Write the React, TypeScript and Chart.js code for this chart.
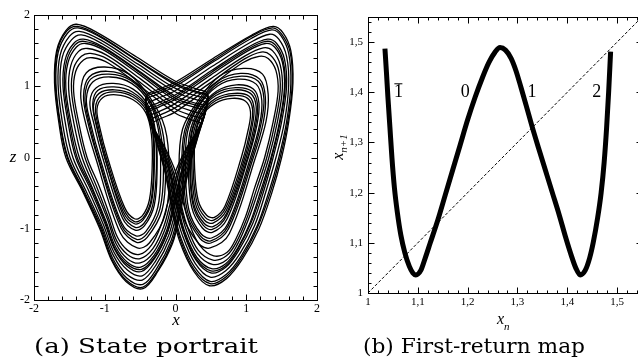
import { useEffect, useRef } from "react";
import { Chart, registerables } from "chart.js";

Chart.register(...registerables);

type Pt = [number, number];

// ---------- (a) State portrait: orbit loops (x, z) ----------
const leftInnerLoops: Pt[][] = [
  [[-0.96,0.0],[-1.07,0.42],[-1.11,0.68],[-1.03,0.84],[-0.84,0.88],[-0.6,0.81],[-0.42,0.63],[-0.34,0.32],[-0.33,-0.15],[-0.37,-0.6],[-0.47,-0.82],[-0.58,-0.86],[-0.72,-0.7],[-0.96,0.0]],
  [[-0.98,0.0],[-1.09,0.43],[-1.13,0.7],[-1.05,0.87],[-0.85,0.92],[-0.6,0.85],[-0.41,0.66],[-0.32,0.33],[-0.31,-0.15],[-0.35,-0.62],[-0.46,-0.85],[-0.58,-0.9],[-0.73,-0.73],[-0.98,0.0]],
  [[-1.0,0.0],[-1.11,0.44],[-1.16,0.72],[-1.08,0.9],[-0.86,0.95],[-0.6,0.88],[-0.4,0.68],[-0.31,0.33],[-0.3,-0.15],[-0.34,-0.63],[-0.46,-0.88],[-0.58,-0.93],[-0.74,-0.76],[-1.0,0.0]],
  [[-1.0,0.0],[-1.12,0.45],[-1.17,0.75],[-1.1,0.94],[-0.87,0.99],[-0.61,0.92],[-0.39,0.7],[-0.29,0.34],[-0.27,-0.15],[-0.32,-0.66],[-0.45,-0.93],[-0.57,-0.98],[-0.74,-0.81],[-1.0,0.0]],
  [[-1.03,0.0],[-1.15,0.46],[-1.21,0.78],[-1.12,0.98],[-0.88,1.04],[-0.6,0.96],[-0.38,0.72],[-0.28,0.35],[-0.26,-0.15],[-0.3,-0.67],[-0.44,-0.96],[-0.57,-1.02],[-0.75,-0.85],[-1.03,0.0]],
  [[-1.07,0.0],[-1.2,0.48],[-1.26,0.82],[-1.17,1.06],[-0.92,1.13],[-0.62,1.04],[-0.37,0.77],[-0.24,0.38],[-0.21,-0.15],[-0.25,-0.7],[-0.42,-1.04],[-0.56,-1.1],[-0.76,-0.92],[-1.07,0.0]],
  [[-1.09,0.0],[-1.22,0.49],[-1.28,0.84],[-1.2,1.1],[-0.94,1.17],[-0.63,1.08],[-0.36,0.79],[-0.22,0.39],[-0.17,-0.15],[-0.22,-0.72],[-0.41,-1.08],[-0.55,-1.15],[-0.76,-0.96],[-1.09,0.0]],
  [[-1.1,0.0],[-1.24,0.5],[-1.3,0.86],[-1.22,1.13],[-0.96,1.21],[-0.64,1.11],[-0.36,0.8],[-0.19,0.4],[-0.14,-0.15],[-0.19,-0.74],[-0.4,-1.12],[-0.55,-1.19],[-0.77,-0.99],[-1.1,0.0]],
  [[-1.13,0.0],[-1.28,0.52],[-1.34,0.9],[-1.26,1.19],[-1.0,1.27],[-0.66,1.17],[-0.36,0.84],[-0.15,0.42],[-0.09,-0.15],[-0.14,-0.78],[-0.37,-1.2],[-0.54,-1.27],[-0.78,-1.06],[-1.13,0.0]],
];

const leftOuterLoops: Pt[][] = [
  [[-1.25,0],[-1.37,0.5],[-1.44,0.93],[-1.41,1.21],[-1.3,1.37],[-1.17,1.4],[-0.94,1.32],[-0.47,0.98],[0,0.62],[0.25,0.52],[0.35,0.48],[0.3,0.36],[0.16,0.14],[0.0,-0.2],[-0.1,-0.6],[-0.2,-0.94],[-0.34,-1.23],[-0.51,-1.36],[-0.68,-1.3],[-0.82,-1.12],[-0.93,-0.81],[-1.08,-0.4],[-1.25,0]],
  [[-1.28,0],[-1.4,0.5],[-1.47,0.94],[-1.44,1.25],[-1.33,1.42],[-1.2,1.46],[-0.96,1.38],[-0.48,1.04],[0,0.68],[0.26,0.58],[0.37,0.54],[0.32,0.4],[0.18,0.16],[0.03,-0.2],[-0.07,-0.62],[-0.17,-0.98],[-0.32,-1.28],[-0.5,-1.42],[-0.68,-1.36],[-0.83,-1.17],[-0.95,-0.84],[-1.11,-0.42],[-1.28,0]],
  [[-1.32,0],[-1.44,0.5],[-1.51,0.96],[-1.48,1.29],[-1.37,1.49],[-1.24,1.53],[-0.98,1.44],[-0.49,1.1],[0,0.74],[0.27,0.64],[0.39,0.6],[0.34,0.44],[0.2,0.17],[0.05,-0.2],[-0.05,-0.64],[-0.15,-1.01],[-0.31,-1.33],[-0.5,-1.48],[-0.68,-1.42],[-0.84,-1.21],[-0.96,-0.87],[-1.14,-0.43],[-1.32,0]],
  [[-1.36,0],[-1.48,0.5],[-1.55,0.98],[-1.52,1.33],[-1.4,1.55],[-1.27,1.6],[-1.0,1.5],[-0.5,1.16],[0,0.8],[0.28,0.7],[0.41,0.66],[0.36,0.48],[0.22,0.19],[0.08,-0.2],[-0.03,-0.66],[-0.13,-1.04],[-0.3,-1.37],[-0.49,-1.54],[-0.68,-1.47],[-0.85,-1.25],[-0.98,-0.9],[-1.17,-0.44],[-1.36,0]],
  [[-1.39,0],[-1.5,0.5],[-1.57,0.99],[-1.54,1.35],[-1.42,1.58],[-1.29,1.63],[-1.01,1.53],[-0.5,1.19],[0,0.83],[0.29,0.73],[0.42,0.69],[0.37,0.5],[0.23,0.2],[0.09,-0.2],[-0.02,-0.67],[-0.12,-1.06],[-0.29,-1.39],[-0.48,-1.57],[-0.68,-1.5],[-0.86,-1.27],[-0.99,-0.91],[-1.18,-0.45],[-1.39,0]],
  [[-1.41,0],[-1.52,0.5],[-1.59,1.0],[-1.56,1.37],[-1.44,1.6],[-1.3,1.66],[-1.02,1.55],[-0.51,1.21],[0,0.86],[0.29,0.76],[0.42,0.72],[0.38,0.52],[0.24,0.21],[0.1,-0.2],[-0.01,-0.68],[-0.12,-1.07],[-0.29,-1.41],[-0.48,-1.6],[-0.68,-1.53],[-0.86,-1.29],[-1.0,-0.92],[-1.2,-0.45],[-1.41,0]],
  [[-1.45,0],[-1.56,0.5],[-1.63,1.02],[-1.6,1.41],[-1.47,1.65],[-1.33,1.72],[-1.04,1.6],[-0.52,1.26],[0,0.92],[0.3,0.81],[0.43,0.77],[0.4,0.56],[0.26,0.23],[0.12,-0.2],[0.01,-0.7],[-0.1,-1.1],[-0.28,-1.45],[-0.47,-1.66],[-0.68,-1.58],[-0.87,-1.33],[-1.02,-0.94],[-1.23,-0.46],[-1.45,0]],
  [[-1.49,0],[-1.6,0.5],[-1.66,1.03],[-1.63,1.44],[-1.5,1.7],[-1.36,1.77],[-1.06,1.65],[-0.53,1.31],[0,0.97],[0.3,0.86],[0.44,0.82],[0.41,0.6],[0.28,0.25],[0.14,-0.2],[0.03,-0.72],[-0.08,-1.13],[-0.27,-1.5],[-0.47,-1.72],[-0.69,-1.64],[-0.88,-1.37],[-1.04,-0.96],[-1.26,-0.48],[-1.49,0]],
  [[-1.52,0],[-1.63,0.5],[-1.69,1.04],[-1.66,1.47],[-1.53,1.74],[-1.38,1.82],[-1.08,1.7],[-0.54,1.36],[0,1.02],[0.3,0.91],[0.45,0.86],[0.42,0.64],[0.3,0.27],[0.16,-0.2],[0.05,-0.74],[-0.06,-1.16],[-0.26,-1.55],[-0.46,-1.78],[-0.69,-1.69],[-0.89,-1.41],[-1.05,-0.98],[-1.28,-0.49],[-1.52,0]],
  [[-1.53,0],[-1.64,0.52],[-1.7,1.06],[-1.67,1.5],[-1.54,1.77],[-1.39,1.84],[-1.09,1.72],[-0.56,1.38],[0,1.04],[0.31,0.92],[0.46,0.87],[0.43,0.66],[0.31,0.28],[0.17,-0.22],[0.06,-0.76],[-0.05,-1.19],[-0.25,-1.58],[-0.46,-1.82],[-0.7,-1.72],[-0.9,-1.43],[-1.06,-0.99],[-1.29,-0.5],[-1.53,0]],
  [[-1.55,0],[-1.65,0.5],[-1.71,1.05],[-1.68,1.5],[-1.55,1.78],[-1.4,1.87],[-1.1,1.75],[-0.55,1.41],[0,1.07],[0.3,0.96],[0.45,0.9],[0.43,0.68],[0.32,0.3],[0.18,-0.2],[0.07,-0.76],[-0.04,-1.2],[-0.25,-1.6],[-0.46,-1.84],[-0.7,-1.74],[-0.9,-1.45],[-1.07,-1.0],[-1.3,-0.5],[-1.55,0]],
];

const rightInnerLoops: Pt[][] = [
  [[0.93,0.0],[1.03,0.4],[1.06,0.64],[0.99,0.79],[0.8,0.83],[0.56,0.76],[0.37,0.58],[0.28,0.3],[0.27,-0.15],[0.32,-0.6],[0.44,-0.81],[0.55,-0.84],[0.7,-0.68],[0.93,0.0]],
  [[0.96,0.0],[1.06,0.41],[1.09,0.67],[1.02,0.83],[0.82,0.87],[0.57,0.8],[0.37,0.6],[0.27,0.31],[0.25,-0.15],[0.3,-0.62],[0.42,-0.84],[0.54,-0.88],[0.71,-0.71],[0.96,0.0]],
  [[0.98,0.0],[1.08,0.42],[1.11,0.69],[1.04,0.86],[0.83,0.9],[0.57,0.83],[0.36,0.62],[0.25,0.32],[0.23,-0.15],[0.28,-0.64],[0.41,-0.88],[0.53,-0.92],[0.72,-0.74],[0.98,0.0]],
  [[1.0,0.0],[1.11,0.43],[1.14,0.72],[1.06,0.9],[0.84,0.95],[0.57,0.87],[0.35,0.65],[0.23,0.33],[0.21,-0.15],[0.26,-0.66],[0.4,-0.92],[0.53,-0.97],[0.72,-0.79],[1.0,0.0]],
  [[1.02,0.0],[1.13,0.44],[1.16,0.74],[1.08,0.93],[0.85,0.98],[0.57,0.9],[0.35,0.66],[0.22,0.33],[0.2,-0.15],[0.25,-0.68],[0.39,-0.95],[0.52,-1.01],[0.72,-0.82],[1.02,0.0]],
  [[1.03,0.0],[1.15,0.45],[1.18,0.76],[1.1,0.96],[0.86,1.02],[0.58,0.93],[0.34,0.68],[0.2,0.34],[0.18,-0.15],[0.23,-0.7],[0.38,-0.99],[0.52,-1.05],[0.73,-0.86],[1.03,0.0]],
  [[1.06,0.0],[1.19,0.47],[1.22,0.8],[1.14,1.03],[0.88,1.1],[0.59,1.0],[0.33,0.72],[0.17,0.36],[0.14,-0.15],[0.19,-0.74],[0.36,-1.07],[0.51,-1.13],[0.74,-0.93],[1.06,0.0]],
  [[1.08,0.0],[1.21,0.48],[1.25,0.82],[1.17,1.07],[0.9,1.14],[0.6,1.04],[0.33,0.74],[0.15,0.37],[0.11,-0.15],[0.17,-0.76],[0.35,-1.1],[0.5,-1.17],[0.74,-0.97],[1.08,0.0]],
  [[1.1,0.0],[1.24,0.49],[1.27,0.85],[1.19,1.1],[0.92,1.18],[0.6,1.07],[0.32,0.76],[0.13,0.38],[0.09,-0.15],[0.15,-0.77],[0.35,-1.14],[0.5,-1.2],[0.75,-1.0],[1.1,0.0]],
  [[1.13,0.0],[1.28,0.51],[1.31,0.89],[1.23,1.17],[0.96,1.25],[0.62,1.14],[0.32,0.8],[0.1,0.4],[0.05,-0.15],[0.1,-0.8],[0.33,-1.21],[0.49,-1.27],[0.76,-1.07],[1.13,0.0]],
];

const rightOuterLoops: Pt[][] = [
  [[1.26,0],[1.38,0.5],[1.45,0.93],[1.42,1.22],[1.31,1.39],[1.18,1.42],[0.95,1.33],[0.47,0.98],[0,0.64],[-0.22,0.54],[-0.32,0.48],[-0.28,0.36],[-0.15,0.14],[0.0,-0.2],[0.1,-0.6],[0.2,-0.94],[0.34,-1.23],[0.54,-1.38],[0.73,-1.33],[0.85,-1.15],[0.99,-0.83],[1.12,-0.42],[1.26,0]],
  [[1.29,0],[1.41,0.5],[1.48,0.94],[1.45,1.26],[1.34,1.44],[1.21,1.48],[0.97,1.38],[0.48,1.04],[0,0.7],[-0.23,0.59],[-0.34,0.53],[-0.3,0.4],[-0.17,0.16],[-0.03,-0.2],[0.07,-0.62],[0.17,-0.98],[0.32,-1.3],[0.53,-1.44],[0.72,-1.38],[0.86,-1.19],[1.01,-0.85],[1.15,-0.43],[1.29,0]],
  [[1.32,0],[1.44,0.5],[1.51,0.96],[1.48,1.3],[1.37,1.5],[1.24,1.54],[0.99,1.43],[0.49,1.1],[0,0.76],[-0.24,0.64],[-0.36,0.58],[-0.32,0.44],[-0.19,0.17],[-0.05,-0.2],[0.05,-0.64],[0.15,-1.01],[0.31,-1.35],[0.52,-1.5],[0.72,-1.44],[0.87,-1.23],[1.03,-0.87],[1.18,-0.44],[1.32,0]],
  [[1.35,0],[1.47,0.5],[1.54,0.98],[1.51,1.34],[1.4,1.55],[1.27,1.6],[1.01,1.49],[0.5,1.16],[0,0.82],[-0.25,0.7],[-0.38,0.63],[-0.34,0.48],[-0.21,0.19],[-0.07,-0.2],[0.03,-0.66],[0.13,-1.04],[0.3,-1.4],[0.51,-1.56],[0.71,-1.49],[0.88,-1.27],[1.06,-0.9],[1.21,-0.45],[1.35,0]],
  [[1.36,0],[1.48,0.5],[1.55,0.99],[1.52,1.36],[1.41,1.58],[1.28,1.63],[1.02,1.52],[0.5,1.19],[0,0.85],[-0.25,0.73],[-0.38,0.66],[-0.35,0.5],[-0.22,0.2],[-0.08,-0.2],[0.02,-0.67],[0.12,-1.05],[0.29,-1.42],[0.5,-1.59],[0.71,-1.52],[0.88,-1.29],[1.07,-0.91],[1.23,-0.45],[1.36,0]],
  [[1.38,0],[1.5,0.5],[1.57,1.0],[1.54,1.38],[1.43,1.6],[1.3,1.66],[1.03,1.55],[0.51,1.22],[0,0.88],[-0.26,0.76],[-0.39,0.69],[-0.36,0.52],[-0.23,0.21],[-0.09,-0.2],[0.01,-0.68],[0.12,-1.07],[0.29,-1.44],[0.5,-1.62],[0.71,-1.54],[0.89,-1.31],[1.09,-0.93],[1.25,-0.46],[1.38,0]],
  [[1.42,0],[1.54,0.5],[1.6,1.02],[1.57,1.42],[1.46,1.66],[1.33,1.73],[1.05,1.61],[0.52,1.28],[0,0.94],[-0.27,0.82],[-0.4,0.75],[-0.38,0.56],[-0.25,0.23],[-0.11,-0.2],[-0.01,-0.7],[0.1,-1.1],[0.28,-1.49],[0.49,-1.68],[0.71,-1.59],[0.91,-1.35],[1.12,-0.95],[1.28,-0.47],[1.42,0]],
  [[1.46,0],[1.57,0.5],[1.63,1.03],[1.6,1.46],[1.49,1.71],[1.36,1.79],[1.07,1.67],[0.53,1.34],[0,1.0],[-0.28,0.88],[-0.41,0.81],[-0.39,0.6],[-0.27,0.25],[-0.13,-0.2],[-0.03,-0.72],[0.08,-1.14],[0.27,-1.54],[0.49,-1.74],[0.72,-1.64],[0.93,-1.38],[1.15,-0.97],[1.32,-0.48],[1.46,0]],
  [[1.48,0],[1.59,0.52],[1.65,1.04],[1.62,1.48],[1.5,1.73],[1.37,1.82],[1.07,1.7],[0.54,1.37],[0,1.03],[-0.29,0.91],[-0.42,0.84],[-0.4,0.63],[-0.28,0.27],[-0.14,-0.22],[-0.04,-0.73],[0.07,-1.16],[0.26,-1.57],[0.49,-1.77],[0.72,-1.67],[0.94,-1.4],[1.16,-0.98],[1.34,-0.49],[1.48,0]],
  [[1.5,0],[1.6,0.5],[1.66,1.05],[1.63,1.5],[1.52,1.75],[1.38,1.84],[1.08,1.72],[0.53,1.39],[0,1.06],[-0.28,0.94],[-0.41,0.87],[-0.4,0.65],[-0.29,0.28],[-0.15,-0.2],[-0.05,-0.74],[0.06,-1.18],[0.26,-1.6],[0.48,-1.8],[0.72,-1.7],[0.95,-1.42],[1.18,-1.0],[1.36,-0.5],[1.5,0]],
];

const portraitTicks = [-2, -1, 0, 1, 2];
const portraitTickLabels = ["-2", "-1", "0", "1", "2"];

// ---------- (b) First-return map ----------
const mapXn = [1.034,1.037,1.040,1.044,1.048,1.053,1.059,1.066,1.074,1.083,1.090,1.096,1.106,1.115,1.125,1.140,1.155,1.170,1.185,1.200,1.215,1.230,1.243,1.255,1.265,1.276,1.287,1.297,1.307,1.318,1.329,1.342,1.356,1.370,1.384,1.397,1.408,1.417,1.426,1.436,1.445,1.452,1.461,1.468,1.474,1.479,1.483,1.487];
const mapXn1 = [1.487,1.44,1.39,1.33,1.27,1.21,1.16,1.115,1.08,1.053,1.04,1.036,1.045,1.07,1.10,1.145,1.195,1.245,1.295,1.345,1.39,1.43,1.46,1.48,1.489,1.484,1.468,1.443,1.41,1.372,1.333,1.29,1.245,1.20,1.155,1.11,1.075,1.05,1.036,1.045,1.07,1.10,1.15,1.20,1.26,1.33,1.40,1.481];
const diagonalXn = [1, 1.55];
const diagonalXn1 = [1, 1.55];
const branchNames = ["1", "0", "1", "2"];
const branchBarred = [true, false, false, false];
const branchXn = [1.061, 1.195, 1.329, 1.459];
const branchXn1 = [1.39, 1.39, 1.39, 1.39];
const mapTicks = [1, 1.1, 1.2, 1.3, 1.4, 1.5];
const mapTickLabels = ["1", "1,1", "1,2", "1,3", "1,4", "1,5"];

const SERIF = '"Liberation Serif", "Times New Roman", serif';

function minorValues(min: number, max: number, step: number, majors: number[]) {
  const out: number[] = [];
  const n = Math.round((max - min) / step);
  for (let i = 0; i <= n; i++) {
    const v = min + i * step;
    if (!majors.some((m) => Math.abs(m - v) < 1e-6)) out.push(v);
  }
  return out;
}

type TickSpec = { majors: number[]; minors: number[]; majorLen: number; minorLen: number; oppositeMinor: boolean };

function framePlugin(spec: { x: TickSpec; y: TickSpec }) {
  return {
    id: "frameTicks",
    afterDraw(chart: any) {
      const { ctx, chartArea: a, scales } = chart;
      const xs = scales.x, ys = scales.y;
      ctx.save();
      ctx.strokeStyle = "#000";
      ctx.lineWidth = 1;
      const L = Math.round(a.left) + 0.5, R = Math.round(a.right) + 0.5;
      const T = Math.round(a.top) + 0.5, B = Math.round(a.bottom) + 0.5;
      ctx.strokeRect(L, T, R - L, B - T);
      ctx.beginPath();
      const xt = spec.x;
      const drawX = (v: number, len: number, top: boolean) => {
        const p = Math.round(xs.getPixelForValue(v)) + 0.5;
        if (top) { ctx.moveTo(p, T); ctx.lineTo(p, T + len); }
        else { ctx.moveTo(p, B); ctx.lineTo(p, B - len); }
      };
      xt.majors.forEach((v) => { drawX(v, xt.majorLen, false); drawX(v, xt.majorLen, true); });
      xt.minors.forEach((v) => { drawX(v, xt.minorLen, false); if (xt.oppositeMinor) drawX(v, xt.minorLen, true); });
      const yt = spec.y;
      const drawY = (v: number, len: number, right: boolean) => {
        const p = Math.round(ys.getPixelForValue(v)) + 0.5;
        if (right) { ctx.moveTo(R, p); ctx.lineTo(R - len, p); }
        else { ctx.moveTo(L, p); ctx.lineTo(L + len, p); }
      };
      yt.majors.forEach((v) => { drawY(v, yt.majorLen, false); drawY(v, yt.majorLen, true); });
      yt.minors.forEach((v) => { drawY(v, yt.minorLen, false); if (yt.oppositeMinor) drawY(v, yt.minorLen, true); });
      ctx.stroke();
      ctx.restore();
    },
  };
}

function drawScaledText(ctx: CanvasRenderingContext2D, text: string, cx: number, baseline: number, font: string, width: number) {
  ctx.save();
  ctx.font = font;
  ctx.fillStyle = "#000";
  ctx.textBaseline = "alphabetic";
  ctx.textAlign = "left";
  const w = ctx.measureText(text).width;
  const s = width / w;
  ctx.translate(cx - width / 2, baseline);
  ctx.scale(s, 1);
  ctx.fillText(text, 0, 0);
  ctx.restore();
}

// closed orbit loop: wrap one point on each side so the spline is smooth at the seam,
// and hide the two wrap segments
function loopDataset(loop: Pt[]) {
  const n = loop.length;
  const wrapped = [loop[n - 2], ...loop, loop[1]];
  const last = wrapped.length - 1;
  return {
    data: wrapped.map(([x, y]) => ({ x, y })),
    showLine: true,
    borderColor: "#000",
    borderWidth: 1.3,
    pointRadius: 0,
    tension: 0.35,
    fill: false,
    segment: {
      borderColor: (c: any) => (c.p0DataIndex === 0 || c.p1DataIndex === last ? "rgba(0,0,0,0)" : undefined),
    },
  };
}

function axisCfg(min: number, max: number, ticks: number[], labels: string[], size: number, fontSize: number, isX: boolean, pad: number) {
  return {
    type: "linear",
    min, max,
    afterBuildTicks: (s: any) => { s.ticks = ticks.map((v) => ({ value: v })); },
    afterFit: (s: any) => { if (isX) s.height = size; else s.width = size; },
    ticks: {
      callback: (_v: any, i: number) => labels[i],
      font: { family: SERIF, size: fontSize },
      color: "#000",
      padding: pad,
      autoSkip: false,
      maxRotation: 0,
      minRotation: 0,
    },
    grid: { display: false, drawTicks: false },
    border: { display: false },
  };
}

export default function App() {
  const leftRef = useRef<HTMLCanvasElement>(null);
  const rightRef = useRef<HTMLCanvasElement>(null);

  useEffect(() => {
    const portraitMinors = minorValues(-2, 2, 0.2, portraitTicks);
    const mapMinors = minorValues(1, 1.54, 0.02, mapTicks);

    const leftTexts = {
      id: "leftTexts",
      afterDraw(chart: any) {
        const ctx = chart.ctx as CanvasRenderingContext2D;
        ctx.save();
        ctx.fillStyle = "#000";
        ctx.font = `italic 17px ${SERIF}`;
        ctx.textAlign = "center";
        ctx.textBaseline = "alphabetic";
        ctx.fillText("z", 13, 162);
        ctx.fillText("x", 176, 325);
        ctx.restore();
        drawScaledText(ctx, "(a) State portrait", 146, 353, '21px "DejaVu Serif", serif', 224);
      },
    };

    const left = new Chart(leftRef.current as HTMLCanvasElement, {
      type: "scatter",
      data: {
        datasets: [...leftInnerLoops, ...leftOuterLoops, ...rightInnerLoops, ...rightOuterLoops].map(loopDataset) as any,
      },
      options: {
        responsive: false,
        animation: false,
        devicePixelRatio: 1,
        layout: { padding: { top: 15, right: 13, left: 0, bottom: 0 } },
        plugins: { legend: { display: false }, tooltip: { enabled: false }, title: { display: false } },
        scales: {
          x: axisCfg(-2, 2, portraitTicks, portraitTickLabels, 60, 12, true, 2) as any,
          y: axisCfg(-2, 2, portraitTicks, portraitTickLabels, 34, 12, false, 4) as any,
        },
      },
      plugins: [
        framePlugin({
          x: { majors: portraitTicks, minors: portraitMinors, majorLen: 6, minorLen: 4, oppositeMinor: true },
          y: { majors: portraitTicks, minors: portraitMinors, majorLen: 6, minorLen: 4, oppositeMinor: true },
        }),
        leftTexts,
      ],
    });

    const rightTexts = {
      id: "rightTexts",
      afterDraw(chart: any) {
        const ctx = chart.ctx as CanvasRenderingContext2D;
        const xs = chart.scales.x, ys = chart.scales.y;
        ctx.save();
        ctx.fillStyle = "#000";
        ctx.strokeStyle = "#000";
        ctx.textBaseline = "alphabetic";
        ctx.font = `18px ${SERIF}`;
        ctx.textAlign = "center";
        branchNames.forEach((name, i) => {
          const px = xs.getPixelForValue(branchXn[i]);
          const py = ys.getPixelForValue(branchXn1[i]);
          ctx.fillText(name, px, py);
          if (branchBarred[i]) {
            ctx.beginPath();
            ctx.lineWidth = 1;
            ctx.moveTo(px - 4, py - 13.5);
            ctx.lineTo(px + 4, py - 13.5);
            ctx.stroke();
          }
        });
        ctx.textAlign = "left";
        ctx.font = `italic 16px ${SERIF}`;
        ctx.fillText("x", 167, 324);
        const wx = ctx.measureText("x").width;
        ctx.font = `italic 11px ${SERIF}`;
        ctx.fillText("n", 167 + wx, 330);
        ctx.translate(13, 147);
        ctx.rotate(-Math.PI / 2);
        ctx.font = `italic 16px ${SERIF}`;
        const w1 = ctx.measureText("x").width;
        ctx.font = `italic 11px ${SERIF}`;
        const w2 = ctx.measureText("n+1").width;
        const start = -(w1 + w2) / 2;
        ctx.font = `italic 16px ${SERIF}`;
        ctx.fillText("x", start, 0);
        ctx.font = `italic 11px ${SERIF}`;
        ctx.fillText("n+1", start + w1, 4);
        ctx.restore();
        drawScaledText(ctx, "(b) First-return map", 144, 353, '21px "DejaVu Serif", serif', 222);
      },
    };

    const right = new Chart(rightRef.current as HTMLCanvasElement, {
      type: "scatter",
      data: {
        datasets: [
          {
            data: diagonalXn.map((x, i) => ({ x, y: diagonalXn1[i] })),
            showLine: true,
            borderColor: "#000",
            borderWidth: 1,
            borderDash: [3, 2],
            pointRadius: 0,
            fill: false,
          },
          {
            data: mapXn.map((x, i) => ({ x, y: mapXn1[i] })),
            showLine: true,
            borderColor: "#000",
            borderWidth: 5,
            pointRadius: 0,
            cubicInterpolationMode: "monotone",
            fill: false,
          },
        ] as any,
      },
      options: {
        responsive: false,
        animation: false,
        devicePixelRatio: 1,
        layout: { padding: { top: 17, right: 4, left: 0, bottom: 0 } },
        plugins: { legend: { display: false }, tooltip: { enabled: false }, title: { display: false } },
        scales: {
          x: axisCfg(1, 1.55, mapTicks, mapTickLabels, 67, 11, true, 3) as any,
          y: axisCfg(1, 1.55, mapTicks, mapTickLabels, 38, 11, false, 5) as any,
        },
      },
      plugins: [
        framePlugin({
          x: { majors: mapTicks, minors: mapMinors, majorLen: 6, minorLen: 3, oppositeMinor: true },
          y: { majors: mapTicks, minors: mapMinors, majorLen: 6, minorLen: 3, oppositeMinor: false },
        }),
        rightTexts,
      ],
    });

    return () => {
      left.destroy();
      right.destroy();
    };
  }, []);

  return (
    <div style={{ position: "absolute", left: 0, top: 0, width: 638, height: 360, overflow: "hidden", background: "#fff" }}>
      <canvas ref={leftRef} width={330} height={360} style={{ position: "absolute", left: 0, top: 0, width: 330, height: 360 }} />
      <canvas ref={rightRef} width={316} height={360} style={{ position: "absolute", left: 330, top: 0, width: 316, height: 360 }} />
    </div>
  );
}
